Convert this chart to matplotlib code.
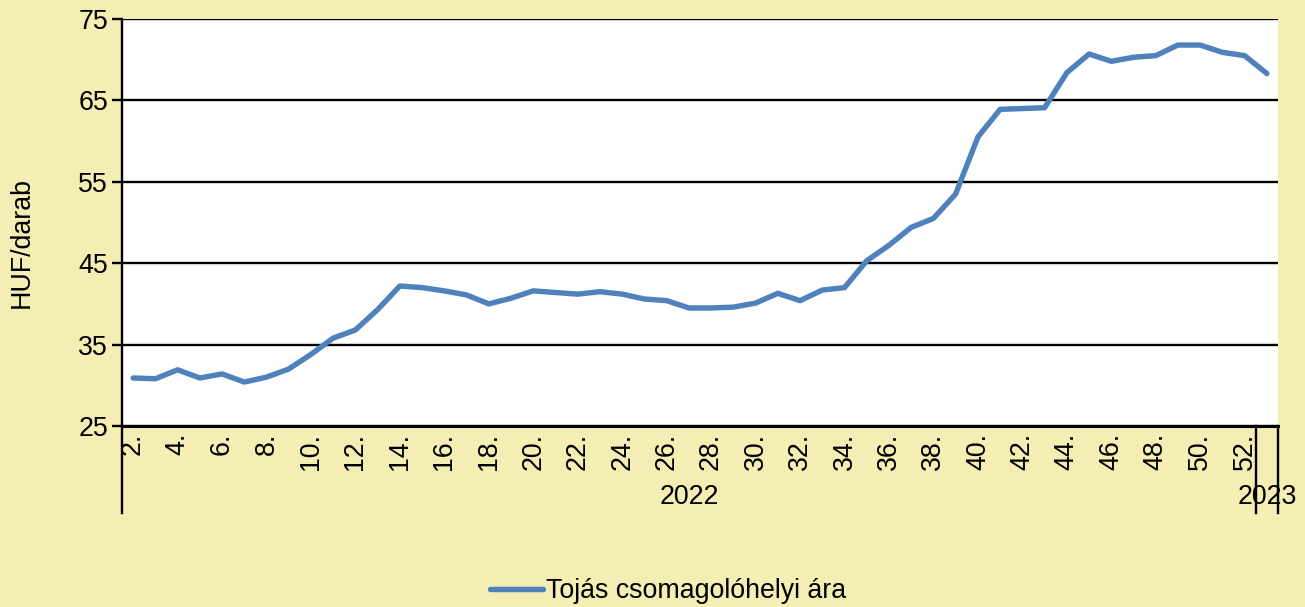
import matplotlib
matplotlib.use('Agg')
import matplotlib.pyplot as plt
import matplotlib.transforms as mtransforms

plt.rcParams['font.family'] = ['Liberation Sans', 'DejaVu Sans']

# Heti adatok: 2022. 2-52. hét + 2023. 1. hét
weeks = [f'{w}.' for w in range(2, 53)] + ['1.']
years = ['2022', '2023']
year_counts = [51, 1]
price = [30.9, 30.8, 31.9, 30.9, 31.4, 30.4, 31.0, 32.0, 33.8, 35.8,
         36.8, 39.3, 42.2, 42.0, 41.6, 41.1, 40.0, 40.7, 41.6, 41.4,
         41.2, 41.5, 41.2, 40.6, 40.4, 39.5, 39.5, 39.6, 40.1, 41.3,
         40.4, 41.7, 42.0, 45.3, 47.2, 49.4, 50.5, 53.5, 60.5, 63.9,
         64.0, 64.1, 68.4, 70.7, 69.8, 70.3, 70.5, 71.8, 71.8, 70.9,
         70.5, 68.3]
series_name = 'Tojás csomagolóhelyi ára'

bg = '#F4EDB4'
fs = 19.3

fig = plt.figure(figsize=(13.05, 6.07), dpi=100, facecolor=bg)
ax = fig.add_axes([122/1305, 1-426/607, (1278-122)/1305, (426-19)/607])
ax.set_facecolor('white')

x = list(range(len(price)))
ax.plot(x, price, color='#4F81BD', lw=3.9, solid_capstyle='round',
        solid_joinstyle='round', label=series_name, zorder=3)

ax.set_xlim(-0.5, len(price) - 0.5)
ax.set_ylim(25, 75)
ax.set_yticks(range(25, 76, 10))
ax.yaxis.grid(True, color='black', lw=1.7)
ax.set_axisbelow(True)
ax.tick_params(axis='y', direction='out', length=7, width=1.7,
               labelsize=fs, pad=3)

# every other week label
ax.set_xticks(x[::2])
ax.set_xticklabels(weeks[::2], rotation=90, fontsize=fs, va='top', ha='center')
ax.tick_params(axis='x', length=0, pad=5)

for s in ['top', 'right']:
    ax.spines[s].set_visible(False)
ax.spines['left'].set_linewidth(1.7)
ax.spines['bottom'].set_linewidth(2.2)

# multi-level category axis: separators and year labels
trans = mtransforms.blended_transform_factory(ax.transData, ax.transAxes)
low = -(513 - 426) / 407
bounds = [-0.5]
for c in year_counts:
    bounds.append(bounds[-1] + c)
for b in bounds:
    ax.plot([b, b], [0, low], transform=trans, color='black', lw=1.7,
            clip_on=False)
ylab = -(497 - 426) / 407
for i, yr in enumerate(years):
    ax.text((bounds[i] + bounds[i + 1]) / 2, ylab, yr, transform=trans,
            ha='center', va='center', fontsize=fs)

fig.text(22/1305, 1-242/607, 'HUF/darab', rotation=90, ha='center',
         va='center', fontsize=fs)

fig.legend(loc='center', bbox_to_anchor=(668/1305, 1-591/607),
           frameon=False, fontsize=fs, handlelength=2.0, handletextpad=0.12)

plt.savefig('out.png', dpi=100, facecolor=bg)
